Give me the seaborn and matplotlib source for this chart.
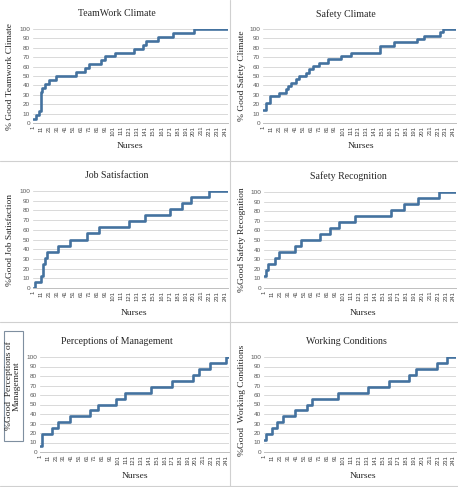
import matplotlib
matplotlib.use("Agg")
import matplotlib.pyplot as plt
import seaborn as sns
import pandas as pd
from matplotlib.lines import Line2D
from matplotlib.patches import Rectangle

sns.set_style("white")
plt.rcParams["font.family"] = ["Liberation Serif", "DejaVu Serif"]

N_NURSES = 244
tick_nurses = list(range(1, 242, 10))
tick_labels = [str(t) for t in tick_nurses]
y_ticks = list(range(0, 101, 10))

titles = ["TeamWork Climate", "Safety Climate", "Job Satisfaction",
          "Safety Recognition", "Perceptions of Management", "Working Conditions"]
ylabels = ["% Good Teamwork Climate", "% Good Safety Climate", "%Good Job Satisfaction",
           "%Good Safety Recognition", "%Good  Perceptions of\nManagement",
           "%Good  Working Conditions"]

# step breakpoints: nurse index where a new cumulative % level starts
teamwork_nurse = [1, 4, 8, 10, 11, 12, 15, 21, 29, 54, 66, 71, 86, 90, 103, 126, 138, 141, 157, 175, 202]
teamwork_pct = [4.2, 8.3, 12.5, 29.2, 33.3, 37.5, 41.7, 45.8, 50.0, 54.2, 58.3, 62.5, 66.7, 70.8,
                75.0, 79.2, 83.3, 87.5, 91.7, 95.8, 100.0]

safety_nurse = [1, 4, 9, 21, 29, 32, 36, 42, 46, 55, 59, 64, 71, 83, 99, 111, 148, 166, 195, 204, 224, 227]
safety_pct = [14.3, 21.4, 28.6, 32.1, 35.7, 39.3, 42.9, 46.4, 50.0, 53.6, 57.1, 60.7, 64.3, 67.9,
              71.4, 75.0, 82.1, 85.7, 89.3, 92.9, 96.4, 100.0]

job_nurse = [1, 3, 11, 13, 15, 18, 32, 47, 68, 83, 121, 140, 172, 186, 198, 220]
job_pct = [0.0, 6.25, 12.5, 25.0, 31.25, 37.5, 43.75, 50.0, 56.25, 62.5, 68.75, 75.0, 81.25,
           87.5, 93.75, 100.0]

recog_nurse = [1, 3, 5, 15, 20, 40, 47, 72, 84, 96, 116, 162, 178, 196, 222]
recog_pct = [12.5, 18.75, 25.0, 31.25, 37.5, 43.75, 50.0, 56.25, 62.5, 68.75, 75.0, 81.25,
             87.5, 93.75, 100.0]

mgmt_nurse = [1, 3, 16, 24, 39, 65, 75, 98, 110, 143, 171, 198, 205, 220, 240]
mgmt_pct = [6.25, 18.75, 25.0, 31.25, 37.5, 43.75, 50.0, 56.25, 62.5, 68.75, 75.0, 81.25,
            87.5, 93.75, 100.0]

work_nurse = [1, 3, 11, 17, 25, 40, 55, 61, 94, 132, 159, 185, 193, 220, 233]
work_pct = [12.5, 18.75, 25.0, 31.25, 37.5, 43.75, 50.0, 56.25, 62.5, 68.75, 75.0, 81.25,
            87.5, 93.75, 100.0]

series = [(teamwork_nurse, teamwork_pct), (safety_nurse, safety_pct), (job_nurse, job_pct),
          (recog_nurse, recog_pct), (mgmt_nurse, mgmt_pct), (work_nurse, work_pct)]

W, H = 458, 487
fig = plt.figure(figsize=(W / 100, H / 100), dpi=100)
fig.patch.set_facecolor("white")

# plot areas in pixel coords: (left, top, right, bottom)
boxes = [(33, 29, 228, 123), (263, 29, 456, 123),
         (33, 191, 228, 288), (264, 192, 456, 288),
         (40, 357, 229, 452), (264, 357, 456, 452)]
title_pos = [(117, 14), (346, 14), (117, 176), (348, 176), (117, 341), (346, 341)]
nurses_pos = [(130, 146), (361, 146), (134, 313), (363, 313), (135, 476), (363, 476)]
ylab_pos = [(10, 76), (242, 76), (10, 240), (242, 240), (13, 386), (242, 400)]

line_color = "#44729f"

for i, ((l, t, r, b), (xs, ys)) in enumerate(zip(boxes, series)):
    ax = fig.add_axes([l / W, 1 - b / H, (r - l) / W, (b - t) / H])
    df = pd.DataFrame({"nurse": list(xs) + [N_NURSES], "pct": list(ys) + [ys[-1]]})
    sns.lineplot(data=df, x="nurse", y="pct", ax=ax, drawstyle="steps-post",
                 color=line_color, linewidth=1.9, errorbar=None, sort=False)
    ax.set_xlim(0.5, N_NURSES)
    ax.set_ylim(0, 100)
    ax.set_yticks(y_ticks)
    ax.set_yticklabels([str(v) for v in y_ticks], fontsize=4.6, color="#595959",
                       family=["Liberation Sans", "DejaVu Sans"])
    ax.set_xticks(tick_nurses)
    ax.set_xticklabels(tick_labels, rotation=90, fontsize=4.2, color="#404040",
                       family=["Liberation Sans", "DejaVu Sans"])
    ax.tick_params(axis="both", length=0, pad=2)
    ax.grid(axis="y", color="#d9d9d9", linewidth=0.7)
    ax.grid(axis="x", visible=False)
    for s in ["top", "right", "left"]:
        ax.spines[s].set_visible(False)
    ax.spines["bottom"].set_color("#bfbfbf")
    ax.spines["bottom"].set_linewidth(0.7)
    ax.set_xlabel("")
    ax.set_ylabel("")
    ax.set_axisbelow(True)

    tx, ty = title_pos[i]
    fig.text(tx / W, 1 - ty / H, titles[i], ha="center", va="center", fontsize=7.1, color="#262626")
    nx, ny = nurses_pos[i]
    fig.text(nx / W, 1 - ny / H, "Nurses", ha="center", va="center", fontsize=6.8, color="#262626")
    yx, yy = ylab_pos[i]
    fig.text(yx / W, 1 - yy / H, ylabels[i], ha="center", va="center", rotation=90,
             fontsize=6.8, color="#262626", linespacing=1.0)

# box around Perceptions of Management axis label
fig.add_artist(Rectangle((4 / W, 1 - 441 / H), 19 / W, 110 / H, transform=fig.transFigure,
                         fill=False, edgecolor="#7f8fa0", linewidth=0.8))

# separators between chart panels
sep = "#d0d0d0"
fig.add_artist(Line2D([230 / W, 230 / W], [0, 1], transform=fig.transFigure, color=sep, linewidth=0.8))
for yy in [161, 322]:
    fig.add_artist(Line2D([0, 1], [1 - yy / H, 1 - yy / H], transform=fig.transFigure,
                          color=sep, linewidth=0.8))
fig.add_artist(Line2D([0, 1], [1 - 486 / H, 1 - 486 / H], transform=fig.transFigure,
                      color=sep, linewidth=0.8))

fig.savefig("out.png", dpi=100)
